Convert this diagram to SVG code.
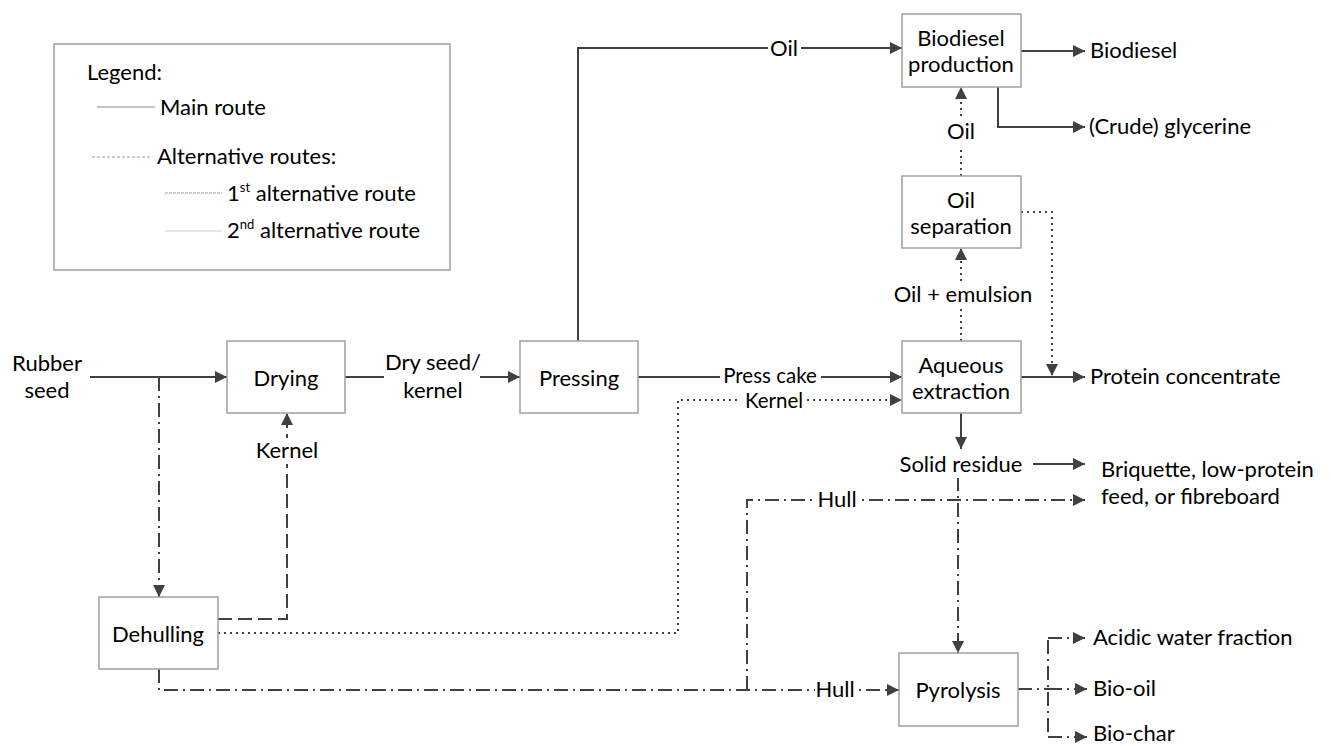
<svg xmlns="http://www.w3.org/2000/svg" width="1331" height="746" viewBox="0 0 1331 746">
<defs>
<style>
text{font-family:Lato,"Open Sans","Liberation Sans",sans-serif;font-size:22px;fill:#000}
.box{fill:#fff;stroke:#a0a0a0;stroke-width:1.5}
.c{fill:none;stroke:#404040;stroke-width:2}
.dd{stroke-dasharray:14 5 2 5}
.da{stroke-dasharray:14 6}
.dt{stroke-dasharray:2 4}
.bg{fill:#fff;stroke:none}
.m{text-anchor:middle}
.s{font-size:20.5px}
</style>
<marker id="ah" viewBox="0 0 10 10" refX="10" refY="5" markerWidth="13" markerHeight="12" markerUnits="userSpaceOnUse" orient="auto"><path d="M0,0L10,5L0,10z" fill="#404040"/></marker>
</defs>
<rect width="1331" height="746" fill="#fff"/>
<g id="legend">
<rect x="54" y="44" width="396" height="226" fill="#fff" stroke="#a0a0a0" stroke-width="1.5"/>
<text x="87" y="80">Legend:</text>
<line x1="97" y1="107" x2="155" y2="107" stroke="#888" stroke-width="1.2"/>
<text x="160" y="115">Main route</text>
<line x1="92" y1="157" x2="150" y2="157" stroke="#999" stroke-width="1" stroke-dasharray="3 2"/>
<text x="157" y="164">Alternative routes:</text>
<line x1="165" y1="193" x2="222" y2="193" stroke="#999" stroke-width="1" stroke-dasharray="3 1"/>
<text x="227" y="201">1<tspan font-size="13" dy="-9">st</tspan><tspan dy="9"> alternative route</tspan></text>
<line x1="165" y1="231" x2="222" y2="231" stroke="#ccc" stroke-width="1"/>
<text x="227" y="238">2<tspan font-size="13" dy="-9">nd</tspan><tspan dy="9"> alternative route</tspan></text>
</g>
<g id="connectors">
<path class="c" d="M90,377H227" marker-end="url(#ah)"/>
<path class="c" d="M345,377H520" marker-end="url(#ah)"/>
<path class="c" d="M638,377H902" marker-end="url(#ah)"/>
<path class="c" d="M578,341V48H902" marker-end="url(#ah)"/>
<path class="c" d="M1021,51H1085" marker-end="url(#ah)"/>
<path class="c" d="M998,87V127H1085" marker-end="url(#ah)"/>
<path class="c" d="M1021,377H1085" marker-end="url(#ah)"/>
<path class="c" d="M961,413V449" marker-end="url(#ah)"/>
<path class="c" d="M1033,464H1085" marker-end="url(#ah)"/>
<path class="c dt" d="M961,341V248" marker-end="url(#ah)"/>
<path class="c dt" d="M961,176V87" marker-end="url(#ah)"/>
<path class="c dt" d="M1021,212H1052V376" marker-end="url(#ah)"/>
<path class="c dt" d="M218,633H678V400H902" marker-end="url(#ah)"/>
<path class="c dd" d="M159,377V597" marker-end="url(#ah)"/>
<path class="c da" d="M218,619H287V413" marker-end="url(#ah)"/>
<path class="c dd" d="M159,669V690H899" marker-end="url(#ah)"/>
<path class="c dd" d="M747,690V500H1085" marker-end="url(#ah)"/>
<path class="c dd" d="M958,477V653" marker-end="url(#ah)"/>
<path class="c dd" d="M1018,689H1048"/>
<path class="c dd" d="M1048,640V737"/>
<path class="c dd" d="M1048,638H1085" marker-end="url(#ah)"/>
<path class="c dd" d="M1048,689H1087" marker-end="url(#ah)"/>
<path class="c dd" d="M1048,737H1087" marker-end="url(#ah)"/>
<rect class="bg" x="384" y="350" width="96" height="54"/>
<rect class="bg" x="768" y="36" width="33" height="24"/>
<rect class="bg" x="720" y="367" width="101" height="20"/>
<rect class="bg" x="741" y="390" width="66" height="20"/>
<rect class="bg" x="252" y="438" width="70" height="26"/>
<rect class="bg" x="944" y="120" width="34" height="26"/>
<rect class="bg" x="892" y="282" width="142" height="26"/>
<rect class="bg" x="892" y="452" width="138" height="26"/>
<rect class="bg" x="816" y="488" width="42" height="24"/>
<rect class="bg" x="815" y="678" width="40" height="24"/>
<text class="m" x="433" y="370">Dry seed/</text>
<text class="m" x="433" y="398">kernel</text>
<text class="m" x="784" y="56">Oil</text>
<text class="m s" x="770" y="383">Press cake</text>
<text class="m s" x="774" y="408">Kernel</text>
<text class="m" x="287" y="458">Kernel</text>
<text class="m" x="961" y="139">Oil</text>
<text class="m" x="963" y="302">Oil + emulsion</text>
<text class="m" x="961" y="472">Solid residue</text>
<text class="m" x="837" y="507">Hull</text>
<text class="m" x="835" y="697">Hull</text>
</g>
<g id="rubber-seed"><text class="m" x="47" y="371">Rubber</text><text class="m" x="47" y="398">seed</text></g>
<g id="drying"><rect class="box" x="227" y="341" width="118" height="72"/><text class="m" x="286" y="386">Drying</text></g>
<g id="pressing"><rect class="box" x="520" y="341" width="118" height="72"/><text class="m" x="579" y="386">Pressing</text></g>
<g id="aqueous-extraction"><rect class="box" x="902" y="341" width="119" height="72"/><text class="m" x="961" y="373">Aqueous</text><text class="m" x="961" y="399">extraction</text></g>
<g id="oil-separation"><rect class="box" x="902" y="176" width="119" height="72"/><text class="m" x="961" y="208">Oil</text><text class="m" x="961" y="234">separation</text></g>
<g id="biodiesel-production"><rect class="box" x="902" y="14" width="119" height="73"/><text class="m" x="961" y="46">Biodiesel</text><text class="m" x="961" y="72">production</text></g>
<g id="dehulling"><rect class="box" x="99" y="597" width="119" height="72"/><text class="m" x="158" y="642">Dehulling</text></g>
<g id="pyrolysis"><rect class="box" x="899" y="653" width="119" height="73"/><text class="m" x="958" y="698">Pyrolysis</text></g>
<g id="biodiesel"><text x="1090" y="58">Biodiesel</text></g>
<g id="glycerine"><text x="1089" y="134">(Crude) glycerine</text></g>
<g id="protein-concentrate"><text x="1090" y="384">Protein concentrate</text></g>
<g id="briquette"><text x="1101" y="477">Briquette, low-protein</text><text x="1101" y="504">feed, or fibreboard</text></g>
<g id="acidic-water"><text x="1093" y="645">Acidic water fraction</text></g>
<g id="bio-oil"><text x="1093" y="696">Bio-oil</text></g>
<g id="bio-char"><text x="1093" y="741">Bio-char</text></g>
</svg>
